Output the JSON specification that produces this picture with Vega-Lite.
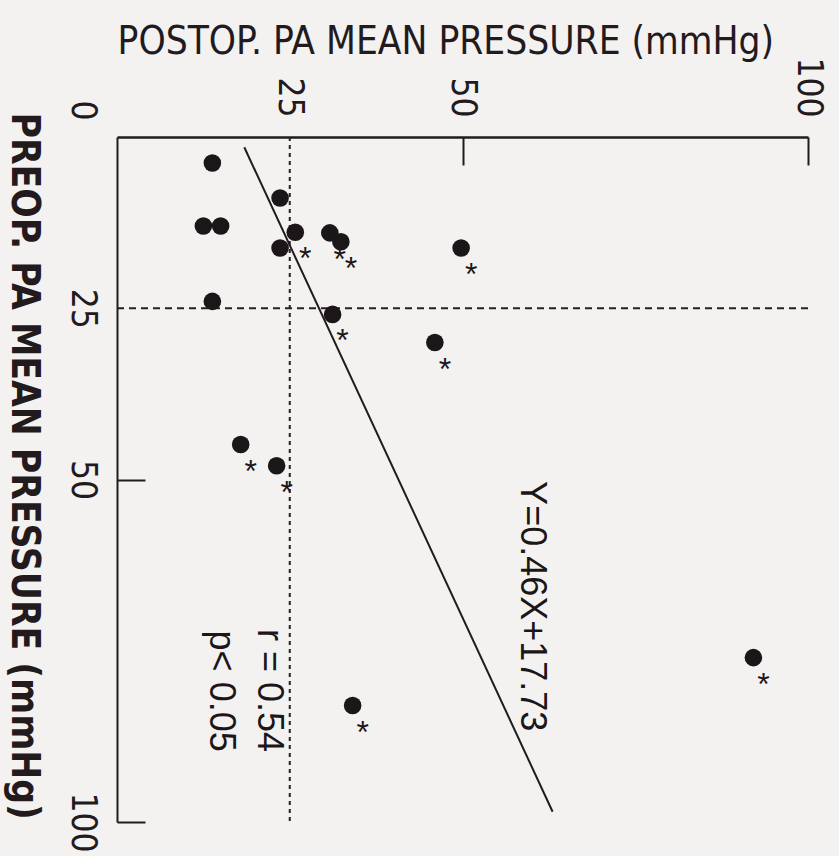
{
  "$schema": "https://vega.github.io/schema/vega-lite/v6.json",
  "width": 691,
  "height": 685,
  "autosize": {"type": "none"},
  "padding": {"left": 117, "top": 137, "right": 31, "bottom": 34},
  "background": "#f3f2f1",
  "config": {"view": {"stroke": null}, "axis": {"grid": false}},
  "datasets": {
    "points": [
      {"postop": 13.8, "preop": 3.8, "star": false},
      {"postop": 23.6, "preop": 8.9, "star": false},
      {"postop": 12.5, "preop": 13.0, "star": false},
      {"postop": 15.0, "preop": 13.0, "star": false},
      {"postop": 25.8, "preop": 13.9, "star": true},
      {"postop": 30.8, "preop": 14.0, "star": true},
      {"postop": 32.4, "preop": 15.3, "star": true},
      {"postop": 23.6, "preop": 16.2, "star": false},
      {"postop": 13.8, "preop": 24.0, "star": false},
      {"postop": 31.2, "preop": 25.9, "star": true},
      {"postop": 49.8, "preop": 16.2, "star": true},
      {"postop": 46.0, "preop": 30.0, "star": true},
      {"postop": 17.9, "preop": 44.9, "star": true},
      {"postop": 23.1, "preop": 48.0, "star": true},
      {"postop": 34.1, "preop": 83.0, "star": true},
      {"postop": 92.1, "preop": 76.0, "star": true}
    ],
    "fit": [
      {"preop": 1.5, "postop": 18.42},
      {"preop": 98.5, "postop": 63.04}
    ],
    "vref": [{"postop": 25, "preop": 0, "preop_end": 100}],
    "href": [{"preop": 25, "postop": 0, "postop_end": 100}],
    "notes": [
      {"postop": 60.1, "preop": 68.5, "text": "Y=0.46X+17.73"},
      {"postop": 22.0, "preop": 80.8, "text": "r = 0.54"},
      {"postop": 15.1, "preop": 80.9, "text": "p< 0.05"}
    ]
  },
  "encoding": {
    "x": {
      "field": "postop", "type": "quantitative",
      "scale": {"domain": [0, 100], "nice": false, "zero": false},
      "axis": {
        "orient": "top",
        "values": [0, 25, 50, 100],
        "title": "POSTOP. PA MEAN PRESSURE (mmHg)",
        "titleFont": "DejaVu Sans Condensed, Liberation Sans, sans-serif",
        "titleFontSize": 38.5,
        "titleFontWeight": "normal",
        "titleColor": "#231a1e",
        "titleAngle": 0,
        "titleAlign": "left",
        "titleBaseline": "alphabetic",
        "titleX": 0,
        "titleY": -84,
        "labelExpr": "datum.value == 0 ? '' : datum.label",
        "labelAngle": 90,
        "labelAlign": "right",
        "labelBaseline": "middle",
        "labelFont": "DejaVu Sans Condensed, Liberation Sans, sans-serif",
        "labelFontSize": 35,
        "labelColor": "#231a1e",
        "labelPadding": 48,
        "labelFlush": false,
        "labelOverlap": false,
        "tickSize": -28,
        "tickWidth": 2,
        "tickColor": "#231a1e",
        "tickOpacity": {"condition": {"test": "datum.value < 50", "value": 0}, "value": 1},
        "domainColor": "#231a1e",
        "domainWidth": 2.5
      }
    },
    "y": {
      "field": "preop", "type": "quantitative",
      "scale": {"domain": [0, 100], "nice": false, "zero": false, "reverse": true},
      "axis": {
        "orient": "left",
        "values": [0, 25, 50, 100],
        "title": "PREOP. PA MEAN PRESSURE (mmHg)",
        "titleFont": "DejaVu Sans Condensed, Liberation Sans, sans-serif",
        "titleFontSize": 38.5,
        "titleFontWeight": "bold",
        "titleColor": "#231a1e",
        "titleAngle": 90,
        "titleAlign": "left",
        "titleBaseline": "alphabetic",
        "titleX": -106,
        "titleY": -25,
        "labelAngle": 90,
        "labelAlign": "center",
        "labelBaseline": "top",
        "labelFont": "DejaVu Sans Condensed, Liberation Sans, sans-serif",
        "labelFontSize": 35,
        "labelColor": "#231a1e",
        "labelPadding": 46,
        "labelFlush": false,
        "labelOverlap": false,
        "labelOffset": {"condition": {"test": "datum.value == 0", "value": -27}, "value": 0},
        "tickSize": -28,
        "tickWidth": 2,
        "tickColor": "#231a1e",
        "tickOpacity": {"condition": {"test": "datum.value < 50", "value": 0}, "value": 1},
        "domainColor": "#231a1e",
        "domainWidth": 2
      }
    }
  },
  "layer": [
    {
      "data": {"name": "vref"},
      "mark": {"type": "rule", "strokeDash": [4, 4], "strokeWidth": 2, "color": "#2a1e23"},
      "encoding": {"y2": {"field": "preop_end"}}
    },
    {
      "data": {"name": "href"},
      "mark": {"type": "rule", "strokeDash": [7, 5], "strokeWidth": 2, "color": "#2a1e23"},
      "encoding": {"x2": {"field": "postop_end"}}
    },
    {
      "data": {"name": "fit"},
      "mark": {"type": "line", "strokeWidth": 2, "color": "#231a1e"},
      "encoding": {}
    },
    {
      "data": {"name": "points"},
      "mark": {"type": "circle", "size": 310, "opacity": 1, "color": "#1b1618"}
    },
    {
      "data": {"name": "points"},
      "transform": [{"filter": "datum.star"}],
      "mark": {"type": "text", "text": "*", "font": "Liberation Sans", "fontSize": 32, "align": "center", "baseline": "alphabetic", "dx": 10, "dy": 37, "color": "#1b1618"}
    },
    {
      "data": {"name": "notes"},
      "mark": {"type": "text", "angle": 90, "font": "Liberation Sans", "fontSize": 36, "align": "center", "baseline": "middle", "color": "#1b1618"},
      "encoding": {"text": {"field": "text"}}
    }
  ]
}
